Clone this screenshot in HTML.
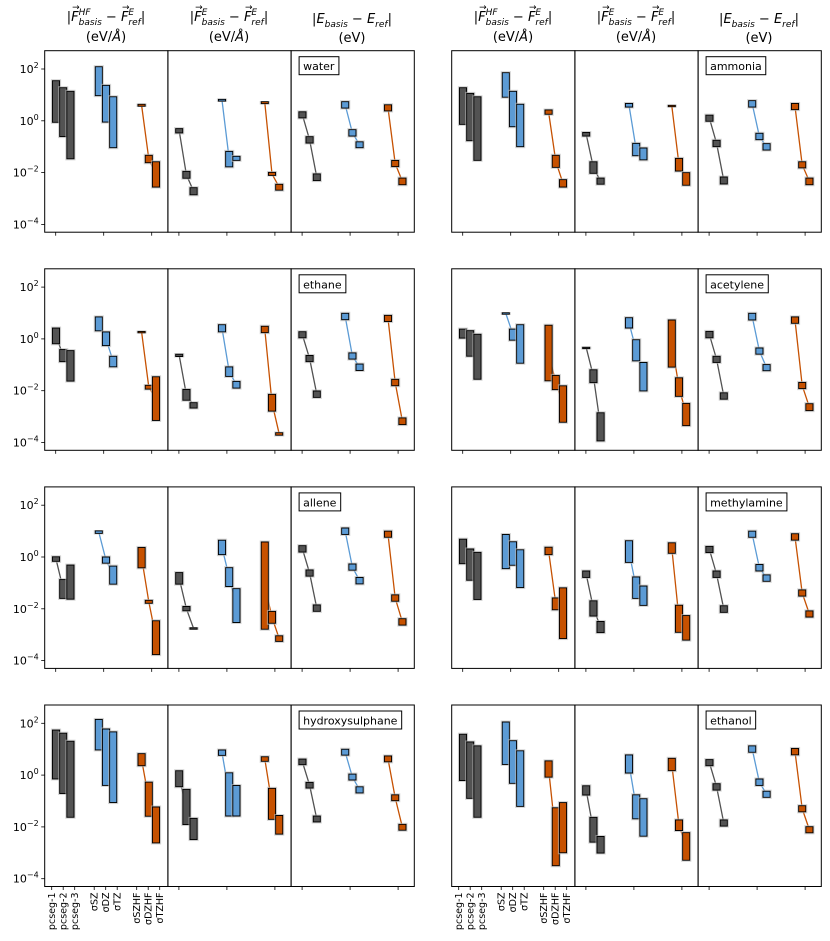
<!DOCTYPE html>
<html><head><meta charset="utf-8">
<style>
body{margin:0;background:#fff;}
#wrap{position:relative;width:830px;height:941px;overflow:hidden;font-family:"DejaVu Sans","Liberation Sans",sans-serif;}
.hdr{position:absolute;width:124px;text-align:center;font-size:13px;line-height:19px;color:#000;}
.hdr i{font-style:italic;}
.hdr sub{font-size:9px;font-style:italic;line-height:0;vertical-align:baseline;position:relative;top:4px;}
.sb{display:inline-block;vertical-align:-4px;line-height:10px;font-size:9px;font-style:italic;text-align:left;}
.sb span{display:block;}
.vec{position:relative;display:inline-block;font-style:italic;}
.vec::before{content:"\2192";position:absolute;left:1px;top:-9px;font-size:9px;font-style:normal;}
svg{position:absolute;left:0;top:0;}
</style></head>
<body>
<div id="wrap">
<div class="hdr" style="left:44px;top:8px;">|<span class="vec">F</span><span class="sb"><span>HF</span><span>basis</span></span> − <span class="vec">F</span><span class="sb"><span>E</span><span>ref</span></span>|<br>(eV/<i>Å</i>)</div>
<div class="hdr" style="left:167px;top:8px;">|<span class="vec">F</span><span class="sb"><span>E</span><span>basis</span></span> − <span class="vec">F</span><span class="sb"><span>E</span><span>ref</span></span>|<br>(eV/<i>Å</i>)</div>
<div class="hdr" style="left:290px;top:10px;">|<i>E</i><sub>basis</sub> − <i>E</i><sub>ref</sub>|<br>(eV)</div>
<div class="hdr" style="left:451px;top:8px;">|<span class="vec">F</span><span class="sb"><span>HF</span><span>basis</span></span> − <span class="vec">F</span><span class="sb"><span>E</span><span>ref</span></span>|<br>(eV/<i>Å</i>)</div>
<div class="hdr" style="left:574px;top:8px;">|<span class="vec">F</span><span class="sb"><span>E</span><span>basis</span></span> − <span class="vec">F</span><span class="sb"><span>E</span><span>ref</span></span>|<br>(eV/<i>Å</i>)</div>
<div class="hdr" style="left:697px;top:10px;">|<i>E</i><sub>basis</sub> − <i>E</i><sub>ref</sub>|<br>(eV)</div>
<svg id="chart" width="830" height="941"></svg>
</div>
<script>
// values are log10 exponents: [low, high] per basis set
const categories = ["pcseg-1","pcseg-2","pcseg-3","σSZ","σDZ","σTZ","σSZHF","σDZHF","σTZHF"];
const yTickExps = [2, 0, -2, -4];
const molecules = ["water","ammonia","ethane","acetylene","allene","methylamine","hydroxysulphane","ethanol"];

const water_fhf = [[-0.06,1.55],[-0.61,1.28],[-1.47,1.14],[0.97,2.09],[-0.05,1.37],[-1.04,0.93],[0.56,0.64],[-1.62,-1.33],[-2.56,-1.58]];
const water_fe = [[-0.47,-0.30],[-2.22,-1.95],[-2.86,-2.58],[0.76,0.83],[-1.78,-1.18],[-1.53,-1.37],[0.66,0.74],[-2.11,-1.99],[-2.68,-2.45]];
const water_e = [[0.11,0.35],[-0.86,-0.61],[-2.31,-2.05],[0.49,0.74],[-0.59,-0.34],[-1.04,-0.81],[0.38,0.62],[-1.77,-1.53],[-2.47,-2.21]];

const ammonia_fhf = [[-0.14,1.28],[-0.77,1.06],[-1.53,0.93],[0.91,1.86],[-0.23,1.14],[-1.0,0.64],[0.25,0.42],[-1.80,-1.33],[-2.56,-2.27]];
const ammonia_fe = [[-0.59,-0.45],[-2.03,-1.58],[-2.45,-2.21],[0.53,0.67],[-1.35,-0.87],[-1.51,-1.05],[0.55,0.60],[-1.94,-1.45],[-2.49,-2.0]];
const ammonia_e = [[-0.02,0.22],[-1.0,-0.75],[-2.44,-2.17],[0.53,0.78],[-0.73,-0.48],[-1.13,-0.88],[0.43,0.67],[-1.82,-1.58],[-2.47,-2.21]];

const ethane_fhf = [[-0.19,0.42],[-0.88,-0.41],[-1.63,-0.45],[0.31,0.85],[-0.26,0.27],[-1.08,-0.67],[0.25,0.29],[-1.94,-1.79],[-3.15,-1.46]];
const ethane_fe = [[-0.68,-0.59],[-2.37,-1.95],[-2.67,-2.46],[0.27,0.55],[-1.45,-1.08],[-1.90,-1.64],[0.24,0.49],[-2.79,-2.14],[-3.72,-3.62]];
const ethane_e = [[0.04,0.28],[-0.88,-0.64],[-2.26,-2.01],[0.74,0.99],[-0.78,-0.54],[-1.22,-0.97],[0.67,0.91],[-1.81,-1.56],[-3.31,-3.05]];

const acetylene_fhf = [[0.03,0.38],[-0.67,0.32],[-1.56,0.18],[0.96,1.01],[-0.05,0.38],[-0.94,0.55],[-1.62,0.53],[-1.96,-1.41],[-3.22,-1.81]];
const acetylene_fe = [[-0.35,-0.32],[-1.69,-1.19],[-3.94,-2.85],[0.42,0.82],[-0.85,-0.03],[-2.01,-0.91],[-1.09,0.73],[-2.22,-1.50],[-3.35,-2.49]];
const acetylene_e = [[0.04,0.29],[-0.91,-0.67],[-2.33,-2.08],[0.73,0.99],[-0.59,-0.35],[-1.23,-0.99],[0.60,0.85],[-1.92,-1.68],[-2.77,-2.50]];

const allene_fhf = [[-0.17,0.01],[-1.60,-0.87],[-1.63,-0.31],[0.91,1.01],[-0.24,0.0],[-1.05,-0.35],[-0.42,0.37],[-1.79,-1.67],[-3.77,-2.46]];
const allene_fe = [[-1.05,-0.60],[-2.08,-1.91],[-2.79,-2.73],[0.09,0.65],[-1.14,-0.41],[-2.53,-1.22],[-2.79,0.58],[-2.56,-2.10],[-3.26,-3.04]];
const allene_e = [[0.19,0.44],[-0.74,-0.5],[-2.10,-1.85],[0.87,1.12],[-0.51,-0.27],[-1.04,-0.79],[0.76,1.0],[-1.71,-1.46],[-2.63,-2.38]];

const methylamine_fhf = [[-0.26,0.69],[-0.90,0.31],[-1.64,0.18],[-0.45,0.87],[-0.32,0.59],[-1.18,0.28],[0.09,0.38],[-2.04,-1.58],[-3.15,-1.19]];
const methylamine_fe = [[-0.79,-0.54],[-2.28,-1.69],[-2.92,-2.49],[-0.21,0.63],[-1.60,-0.77],[-1.87,-1.12],[0.14,0.55],[-2.91,-1.86],[-3.21,-2.26]];
const methylamine_e = [[0.17,0.41],[-0.79,-0.54],[-2.14,-1.88],[0.76,1.0],[-0.54,-0.29],[-0.94,-0.69],[0.65,0.90],[-1.51,-1.27],[-2.32,-2.08]];

const hydroxysulphane_fhf = [[-0.15,1.74],[-0.71,1.62],[-1.63,1.31],[0.97,2.15],[-0.40,1.78],[-1.06,1.67],[0.36,0.83],[-1.59,-0.27],[-2.62,-1.23]];
const hydroxysulphane_fe = [[-0.45,0.17],[-1.91,-0.55],[-2.49,-1.67],[0.76,0.97],[-1.58,0.09],[-1.58,-0.40],[0.53,0.71],[-1.71,-0.51],[-2.28,-1.56]];
const hydroxysulphane_e = [[0.40,0.62],[-0.50,-0.28],[-1.81,-1.58],[0.77,1.0],[-0.19,0.04],[-0.69,-0.45],[0.51,0.74],[-0.99,-0.76],[-2.13,-1.90]];

const ethanol_fhf = [[-0.21,1.58],[-0.90,1.28],[-1.63,1.13],[0.41,2.05],[-0.32,1.33],[-1.21,0.94],[-0.08,0.55],[-3.50,-1.26],[-3.0,-1.06]];
const ethanol_fe = [[-0.77,-0.41],[-2.59,-1.63],[-3.01,-2.37],[0.08,0.78],[-1.69,-0.76],[-2.36,-0.91],[0.17,0.65],[-2.14,-1.73],[-3.29,-2.22]];
const ethanol_e = [[0.36,0.60],[-0.58,-0.33],[-1.97,-1.73],[0.88,1.13],[-0.40,-0.15],[-0.86,-0.62],[0.78,1.03],[-1.42,-1.18],[-2.23,-1.99]];

const panelData = {
  water:[water_fhf,water_fe,water_e], ammonia:[ammonia_fhf,ammonia_fe,ammonia_e],
  ethane:[ethane_fhf,ethane_fe,ethane_e], acetylene:[acetylene_fhf,acetylene_fe,acetylene_e],
  allene:[allene_fhf,allene_fe,allene_e], methylamine:[methylamine_fhf,methylamine_fe,methylamine_e],
  hydroxysulphane:[hydroxysulphane_fhf,hydroxysulphane_fe,hydroxysulphane_e], ethanol:[ethanol_fhf,ethanol_fe,ethanol_e]
};

const NS = "http://www.w3.org/2000/svg";
const svg = document.getElementById("chart");
const rowTops = [50.7, 268.8, 486.9, 705];
const colLefts = [44.7, 451.7];
const subW = 123.2, axH = 181.5;
const colors = ["#525252", "#5b9bd5", "#c65102"];
const panelKeys = ["fhf","fe","e"];

function mk(tag, attrs, parent){
  const el = document.createElementNS(NS, tag);
  for (const k in attrs) el.setAttribute(k, attrs[k]);
  (parent||svg).appendChild(el);
  return el;
}
function yScale(row, e){ return rowTops[row] + 18.3 + (2 - e) * 25.9; }
function xBar(left, idx){ const g = Math.floor(idx/3), j = idx%3; return left + 11.3 + 42.8*g + 7.2*j; }
function xTick9(left, idx){ const g = Math.floor(idx/3), j = idx%3; return left + 7 + 42.5*g + 11.5*j; }

molecules.forEach((mol, m) => {
  const row = Math.floor(m/2), col = m % 2;
  const top = rowTops[row];
  for (let p = 0; p < 3; p++) {
    const left = colLefts[col] + p*subW;
    const data = panelData[mol][p];
    const g0 = mk("g", {});
    
    
    for (let g = 0; g < 3; g++) {
      const pts = [];
      for (let j = 0; j < 3; j++) {
        const idx = g*3+j;
        const mid = (data[idx][0] + data[idx][1]) / 2;
        pts.push(xBar(left, idx).toFixed(2) + "," + yScale(row, mid).toFixed(2));
      }
      const pl = mk("polyline", {points: pts.join(" "), fill: "none", stroke: colors[g], "stroke-width": 1.3}, g0);
      
      
    }
    for (let idx = 0; idx < 9; idx++) {
      const g = Math.floor(idx/3);
      const yTop = yScale(row, data[idx][1]);
      const yBot = yScale(row, data[idx][0]);
      const h = Math.max(1.5, yBot - yTop);
      const r = mk("rect", {x: (xBar(left, idx) - 3.6).toFixed(2), y: yTop.toFixed(2), width: 7.2, height: h.toFixed(2),
        fill: colors[g], stroke: "#000", "stroke-width": 1, filter: "url(#halo)"}, g0);
      
      
    }
    const fr = mk("rect", {x: left, y: top, width: subW, height: axH, fill: "none", stroke: "#000", "stroke-width": 1}, g0);
    
    
    const bottom = top + axH;
    if (row === 3 && p === 0) {
      for (let i = 0; i < 9; i++) {
        const x = xTick9(left, i);
        const t = mk("line", {x1: x, x2: x, y1: bottom, y2: bottom + 3.5, stroke: "#000", "stroke-width": 0.8}, g0);
        
        
        const tx = mk("text", {x: 0, y: 0, transform: "translate(" + (x + 3.3) + "," + (bottom + 6) + ") rotate(-90)",
          "text-anchor": "end", "font-size": "9.5", fill: "#000"}, g0);
        tx.textContent = categories[i];
        
        
      }
    } else {
      for (let k = 0; k < 3; k++) {
        const x = left + 11 + 48*k;
        const t = mk("line", {x1: x, x2: x, y1: bottom, y2: bottom + 3.5, stroke: "#000", "stroke-width": 0.8}, g0);
        
        
      }
    }
    if (p === 2) {
      const tx = mk("text", {x: left + 12, y: top + 19.5, "font-size": "11", fill: "#000"});
      tx.textContent = mol;
      
      
      const bb = tx.getBBox();
      const bx = mk("rect", {x: left + 8, y: top + 6, width: bb.width + 8, height: 18, fill: "#fff", stroke: "#000", "stroke-width": 1});
      
      
      svg.insertBefore(bx, tx);
    }
  }
  if (col === 0) {
    yTickExps.forEach(e => {
      const y = yScale(row, e);
      const t = mk("line", {x1: colLefts[0] - 3.5, x2: colLefts[0], y1: y, y2: y, stroke: "#000", "stroke-width": 0.8});
      
      
      const tx = mk("text", {x: colLefts[0] - 6, y: y + 4, "text-anchor": "end", "font-size": "11", fill: "#000"});
      
      
      const a = document.createElementNS(NS, "tspan"); a.textContent = "10"; tx.appendChild(a);
      const b = document.createElementNS(NS, "tspan");
      b.setAttribute("dy", "-5"); b.setAttribute("font-size", "8");
      b.textContent = e < 0 ? "−" + (-e) : String(e);
      tx.appendChild(b);
    });
  }
});
const defs = document.createElementNS(NS, "defs");
defs.innerHTML = '<filter id="halo" x="-30%" y="-30%" width="160%" height="160%"><feMorphology in="SourceAlpha" operator="dilate" radius="1" result="d"/><feFlood flood-color="#bbb" flood-opacity="0.6"/><feComposite in2="d" operator="in" result="h"/><feMerge><feMergeNode in="h"/><feMergeNode in="SourceGraphic"/></feMerge></filter>';
svg.insertBefore(defs, svg.firstChild);
</script>
</body></html>
